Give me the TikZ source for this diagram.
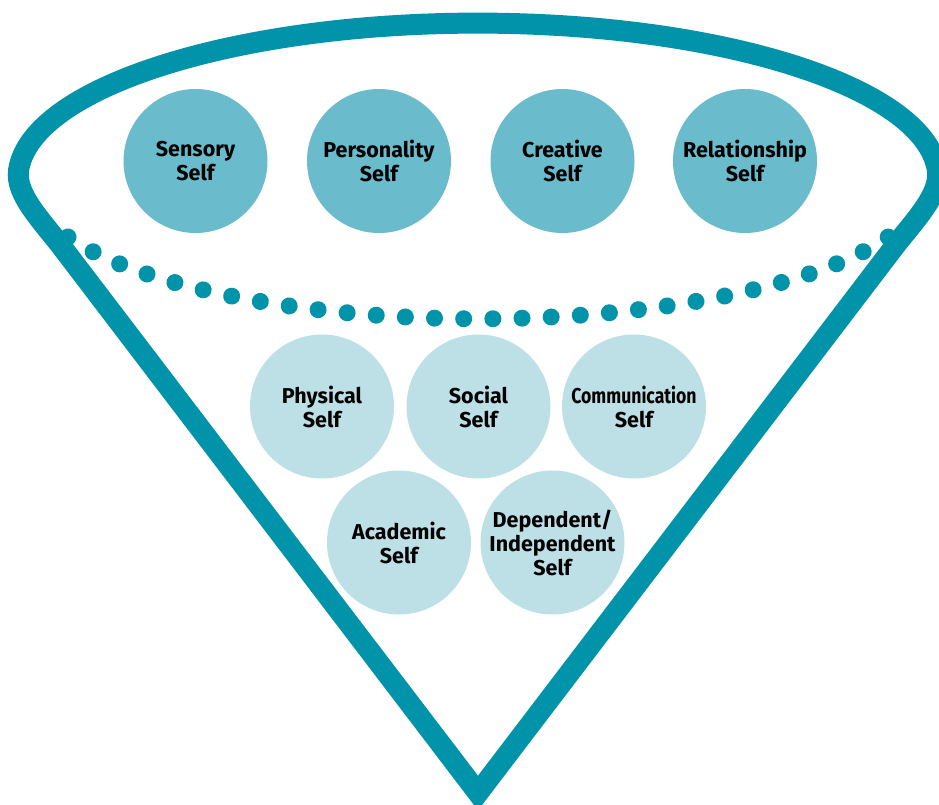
\documentclass[tikz,border=0pt]{standalone}
\usepackage{fontspec}
\usepackage{graphicx}
\setmainfont{Fira Sans}
\usetikzlibrary{decorations.markings}
\definecolor{funnel}{HTML}{0093A9}
\definecolor{upper}{HTML}{6ABBCB}
\definecolor{lower}{HTML}{BDDFE6}
\begin{document}
\begin{tikzpicture}[x=1pt,y=-1pt,
  self/.style={circle, inner sep=0pt, minimum size=144pt, align=center,
    font=\bfseries\fontsize{21.5}{24}\selectfont, text=black},
  top self/.style={self, fill=upper},
  base self/.style={self, fill=lower},
  rim/.style={draw=funnel, line width=21pt, line join=miter, miter limit=10},
  bead/.style={fill=funnel}]
\useasboundingbox (0,0) rectangle (939,805);

% funnel outline: cone sides meeting at the tip, open ellipse on top
\coordinate (tip) at (478,793);
\coordinate (L1) at (64.2,250);
\coordinate (R1) at (891.8,250);
\draw[rim] (tip) -- (L1)
  .. controls (43,222) and (14.8,194.7) .. (18.6,170)
  arc[start angle=183, end angle=357, x radius=460, y radius=155]
  .. controls (941.2,194.7) and (913,222) .. (R1) -- cycle;

% dotted rim at the back of the cone
\coordinate (dl) at (68,237);
\path[decoration={markings,
    mark=between positions 0 and 0.99 step 0.0344828 with {\fill[bead] (0,0) circle (8.5);}},
  decorate]
  (dl) arc[start angle=155.7, end angle=24.3, x radius=450, y radius=139];
\path (dl) arc[start angle=155.7, end angle=24.3, x radius=450, y radius=139] coordinate (dr);
\fill[bead] (dr) circle (8.5);

% upper row
\node[top self] (sensory) at (195.5,161) {Sensory\\Self};
\node[top self] (personality) at (379,161) {Personality\\Self};
\node[top self] (creative) at (562.5,161) {Creative\\Self};
\node[top self] (relationship) at (745,161) {Relationship\\Self};

% lower group
\node[base self] (physical) at (322,406.5) {Physical\\Self};
\node[base self] (social) at (478.5,406.5) {Social\\Self};
\node[base self] (communication) at (634,406.5) {\scalebox{0.82}[1]{Communication}\\Self};
\node[base self] (academic) at (399,542.5) {Academic\\Self};
\node[base self] (dependent) at (552.5,542.5) {Dependent/\\Independent\\Self};
\end{tikzpicture}
\end{document}
